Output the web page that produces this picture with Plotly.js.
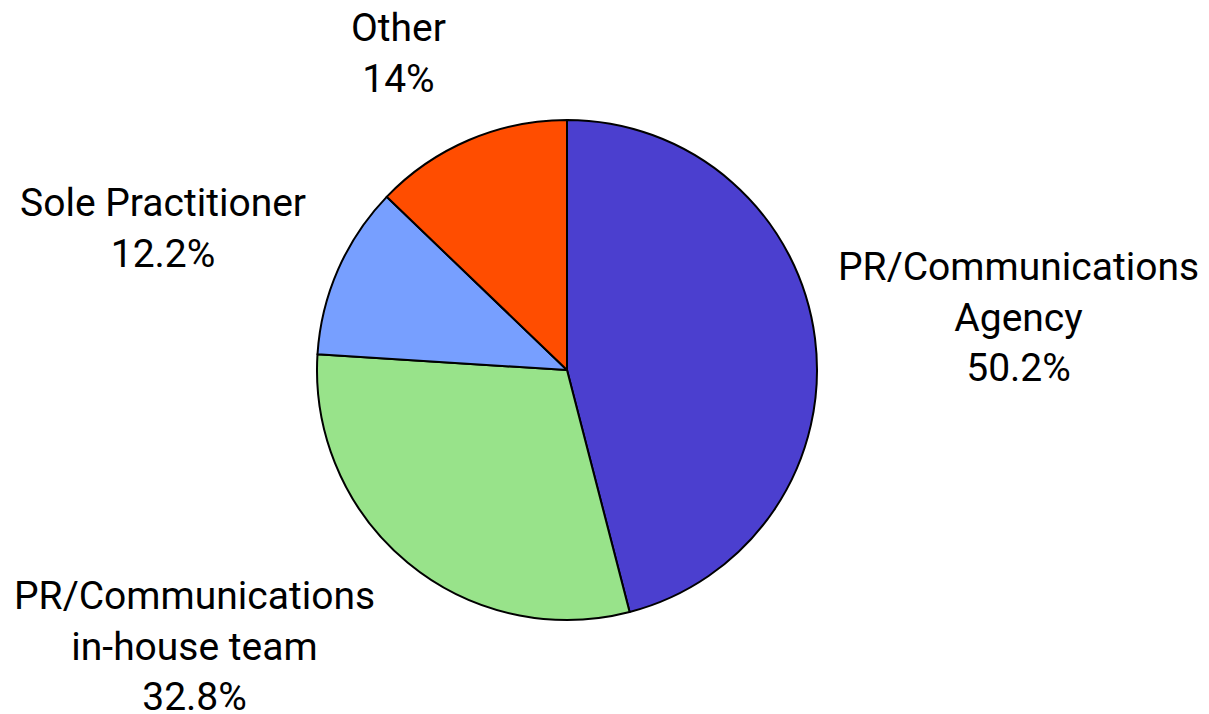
<!DOCTYPE html>
<html>
<head>
<meta charset="utf-8">
<script src="https://cdn.plot.ly/plotly-3.0.1.min.js"></script>
<style>html,body{margin:0;padding:0;background:#fff;}#chart{width:1209px;height:714px;}</style>
</head>
<body>
<div id="chart"></div>
<script>
const categories = ["PR/Communications<br>Agency", "PR/Communications<br>in-house team", "Sole Practitioner", "Other"];
const shares = [50.2, 32.8, 12.2, 14];
const colors = ["#4B3FCF", "#98E38A", "#779FFF", "#FF4D00"];

const W = 1209, H = 714;
const FS = 39;
const domX = [317 / W, 817 / W];
const domY = [1 - 620 / H, 1 - 120 / H];

const trace = {
  type: "pie",
  labels: categories,
  values: shares,
  sort: false,
  direction: "clockwise",
  rotation: 0,
  textinfo: "none",
  hoverinfo: "label+value",
  marker: {colors: colors, line: {color: "#000000", width: 2}},
  domain: {x: domX, y: domY},
  showlegend: false
};

// Label placement derived from each slice's mid-angle
const cx = (domX[0] + domX[1]) / 2 * W;
const cy = (1 - (domY[0] + domY[1]) / 2) * H;
const r = Math.min((domX[1] - domX[0]) * W, (domY[1] - domY[0]) * H) / 2;
const total = shares.reduce((a, b) => a + b, 0);
let cum = 0;
const annotations = shares.map((v, i) => {
  const mid = (cum + v / 2) / total * 2 * Math.PI;
  cum += v;
  const s = Math.sin(mid), c = Math.cos(mid);
  const Rx = r * (1.07 + 0.18 * Math.abs(c));
  const Ry = r * 1.14;
  const text = categories[i] + "<br>" + v + "%";
  const nLines = text.split("<br>").length;
  const h = FS * (1.3 * (nLines - 1) + 1.17);
  return {
    xref: "paper", yref: "paper",
    x: (cx + Rx * s) / W,
    y: 1 - (cy - Ry * c) / H,
    xanchor: s >= 0 ? "left" : "right",
    yanchor: "middle",
    yshift: 1.1 * c * h / 2 + 0.15 * FS,
    text: text,
    align: "center",
    showarrow: false,
    borderpad: 0,
    borderwidth: 0,
    font: {family: "Roboto", size: FS, color: "#000000"}
  };
});

const layout = {
  width: W,
  height: H,
  margin: {l: 0, r: 0, t: 0, b: 0},
  paper_bgcolor: "#ffffff",
  font: {family: "Roboto", color: "#000000"},
  showlegend: false,
  annotations: annotations
};

Plotly.newPlot("chart", [trace], layout, {displayModeBar: false, staticPlot: true});
</script>
</body>
</html>
